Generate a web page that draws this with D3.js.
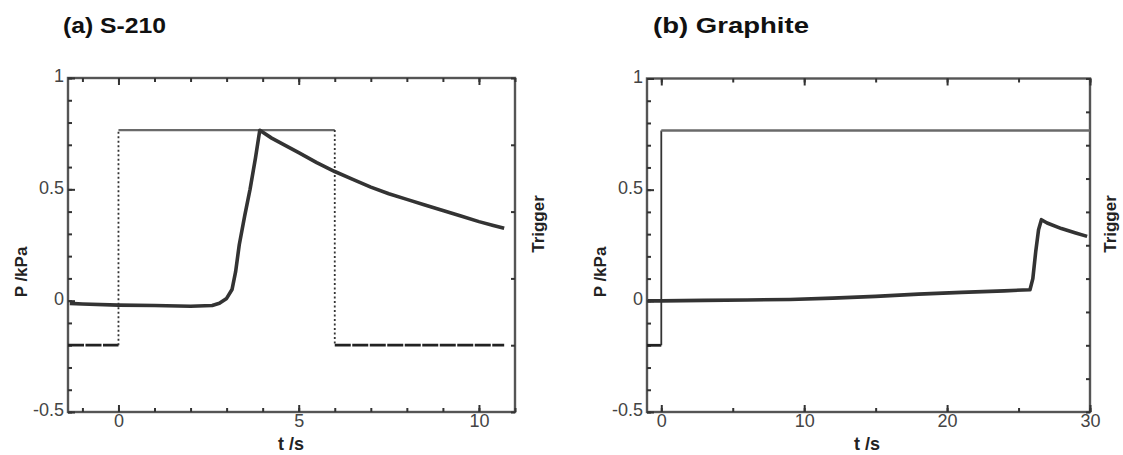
<!DOCTYPE html>
<html>
<head>
<meta charset="utf-8">
<script src="https://cdn.jsdelivr.net/npm/d3@7"></script>
<style>
  body { margin: 0; background: #fff; }
  svg { display: block; font-family: "Liberation Sans", Arial, sans-serif; }
</style>
</head>
<body>
<svg id="chart" width="1123" height="455"></svg>
<script>
// pressure traces (t in s, P in kPa)
const tA = [-1.35, -1, 0, 1, 2, 2.6, 2.8, 3.0, 3.15, 3.25, 3.35, 3.5, 3.65, 3.8, 3.92, 4.25, 4.65, 5, 5.5, 6, 6.5, 7, 7.5, 8, 8.5, 9, 9.5, 10, 10.4, 10.7];
const pA = [-0.012, -0.015, -0.02, -0.022, -0.025, -0.022, -0.012, 0.01, 0.05, 0.13, 0.25, 0.38, 0.5, 0.64, 0.765, 0.73, 0.695, 0.665, 0.62, 0.58, 0.545, 0.51, 0.48, 0.455, 0.43, 0.405, 0.38, 0.355, 0.338, 0.325];

const tB = [-0.95, 0, 3, 6, 9, 12, 15, 18, 21, 24, 25.8, 26.0, 26.2, 26.4, 26.6, 27, 28, 29, 29.8];
const pB = [0.0, 0.0, 0.002, 0.004, 0.006, 0.012, 0.02, 0.03, 0.038, 0.045, 0.05, 0.1, 0.22, 0.32, 0.365, 0.35, 0.325, 0.305, 0.29];

// trigger signal (right axis, arbitrary units)
const trigA_t = [-1.4, 0, 0, 6, 6, 10.7];
const trigA_v = [0, 0, 3.22, 3.22, 0, 0];
const trigB_t = [-1, 0, 0, 30];
const trigB_v = [0, 0, 3.22, 3.22];

// axis settings
const pTicks = [-0.5, 0, 0.5, 1];
const pTickLabels = ["-0.5", "0", "0.5", "1"];
const panels = [
  { title: "(a) S-210", titleW: 103, xDomain: [-1.4, 11], xMajor: [0, 5, 10], xMinorStep: 1,
    trigMinorStep: 1, box: [68, 515, 78, 412], t: tA, p: pA, tt: trigA_t, tv: trigA_v, dottedEdges: true,
    xLabelX: 291, yLabelX: 21, trigLabelX: 538 },
  { title: "(b) Graphite", titleW: 156, xDomain: [-1, 30], xMajor: [0, 10, 20, 30], xMinorStep: 5,
    trigMinorStep: 0.5, box: [647, 1090, 78.5, 412], t: tB, p: pB, tt: trigB_t, tv: trigB_v, dottedEdges: false,
    xLabelX: 867, yLabelX: 600, trigLabelX: 1110 }
];

const svg = d3.select("#chart");

panels.forEach(cfg => {
  const [x0, x1, y0, y1] = cfg.box;
  const x = d3.scaleLinear().domain(cfg.xDomain).range([x0, x1]);
  const y = d3.scaleLinear().domain([-0.5, 1]).range([y1, y0]);
  const yT = d3.scaleLinear().domain([-1, 4]).range([y1, y0]);
  const g = svg.append("g");

  const xMinor = d3.range(Math.ceil(cfg.xDomain[0] / cfg.xMinorStep) * cfg.xMinorStep, cfg.xDomain[1] + 1e-9, cfg.xMinorStep);
  const yMinor = d3.range(-0.5, 1.0001, 0.1);
  const tMinor = d3.range(-1, 4.0001, cfg.trigMinorStep);

  // frame first, ticks go on top of it
  g.append("rect")
    .attr("x", x0).attr("y", y0).attr("width", x1 - x0).attr("height", y1 - y0)
    .attr("fill", "none").attr("stroke", "#555").attr("stroke-width", 2.4);

  // minor ticks (inward, no labels)
  const minor = (axis, scale, vals, tr) => g.append("g")
    .attr("transform", tr)
    .call(axis(scale).tickValues(vals).tickSize(-4).tickFormat(""))
    .call(s => s.select(".domain").remove())
    .call(s => s.selectAll("line").attr("stroke", "#333").attr("stroke-width", 2));
  minor(d3.axisBottom, x, xMinor, `translate(0,${y1})`);
  minor(d3.axisTop, x, xMinor, `translate(0,${y0})`);
  minor(d3.axisLeft, y, yMinor, `translate(${x0},0)`);
  minor(d3.axisRight, yT, tMinor, `translate(${x1},0)`);

  // major ticks with labels
  g.append("g")
    .attr("transform", `translate(0,${y1})`)
    .call(d3.axisBottom(x).tickValues(cfg.xMajor).tickSize(-7).tickPadding(2).tickFormat(d3.format("d")))
    .call(s => s.select(".domain").remove())
    .call(s => s.selectAll("line").attr("stroke", "#333").attr("stroke-width", 2))
    .call(s => s.selectAll("text").attr("font-size", 18).attr("fill", "#444").attr("font-family", null));
  g.append("g")
    .attr("transform", `translate(0,${y0})`)
    .call(d3.axisTop(x).tickValues(cfg.xMajor).tickSize(-7).tickFormat(""))
    .call(s => s.select(".domain").remove())
    .call(s => s.selectAll("line").attr("stroke", "#333").attr("stroke-width", 2));
  g.append("g")
    .attr("transform", `translate(${x0},0)`)
    .call(d3.axisLeft(y).tickValues(pTicks).tickSize(-7).tickPadding(4).tickFormat((d, i) => pTickLabels[i]))
    .call(s => s.select(".domain").remove())
    .call(s => s.selectAll("line").attr("stroke", "#333").attr("stroke-width", 2))
    .call(s => s.selectAll("text").attr("font-size", 18).attr("fill", "#444").attr("dy", "0.22em").attr("font-family", null));

  // trigger trace
  for (let i = 0; i < cfg.tt.length - 1; i++) {
    const vertical = cfg.tt[i] === cfg.tt[i + 1];
    const high = !vertical && cfg.tv[i] > 1;
    const seg = g.append("line")
      .attr("x1", x(cfg.tt[i])).attr("y1", yT(cfg.tv[i]))
      .attr("x2", x(cfg.tt[i + 1])).attr("y2", yT(cfg.tv[i + 1]));
    if (vertical) {
      seg.attr("stroke", "#333").attr("stroke-width", 1.8);
      if (cfg.dottedEdges) seg.attr("stroke-dasharray", "2,2.5");
    } else if (high) {
      seg.attr("stroke", "#6a6a6a").attr("stroke-width", 2.4);
    } else {
      seg.attr("stroke", "#222").attr("stroke-width", 2.8).attr("stroke-dasharray", "16,1.5");
    }
  }

  // pressure trace
  const line = d3.line().x(d => x(d[0])).y(d => y(d[1]));
  g.append("path")
    .datum(cfg.t.map((t, i) => [t, cfg.p[i]]))
    .attr("d", line)
    .attr("fill", "none")
    .attr("stroke", "#333")
    .attr("stroke-width", 3.6)
    .attr("stroke-linejoin", "round");

  // axis titles
  g.append("text")
    .attr("x", cfg.xLabelX).attr("y", 450)
    .attr("text-anchor", "middle").attr("font-weight", "bold").attr("font-size", 18).attr("fill", "#222")
    .text("t /s");
  g.append("text")
    .attr("transform", `translate(${cfg.yLabelX + 6},272) rotate(-90)`)
    .attr("text-anchor", "middle").attr("font-weight", "bold").attr("font-size", 17).attr("fill", "#222")
    .text("P /kPa");
  g.append("text")
    .attr("transform", `translate(${cfg.trigLabelX + 6},224) rotate(-90)`)
    .attr("text-anchor", "middle").attr("font-weight", "bold").attr("font-size", 17).attr("fill", "#222")
    .text("Trigger");

  // panel title
  g.append("text")
    .attr("x", x0 - 5 + (cfg.title.startsWith("(b)") ? 11 : 0)).attr("y", 33)
    .attr("font-weight", "bold").attr("font-size", 22).attr("fill", "#111")
    .attr("textLength", cfg.titleW).attr("lengthAdjust", "spacingAndGlyphs")
    .text(cfg.title);
});
</script>
</body>
</html>
